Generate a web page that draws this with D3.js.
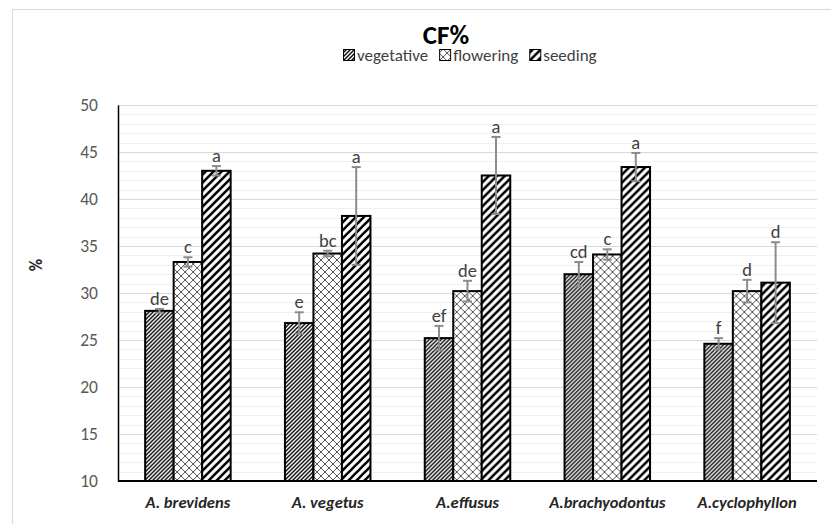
<!DOCTYPE html>
<html lang="en"><head>
<meta charset="utf-8">
<title>CF%</title>
<script src="https://cdn.jsdelivr.net/npm/d3@7"></script>
<style>
  body { margin: 0; background: #fff; }
  svg { display: block; font-family: Carlito, Lato, "Liberation Sans", sans-serif; }
</style>
</head>
<body>
<svg id="chart" width="831" height="524"></svg>
<script>
// data
let species = ["A. brevidens", "A. vegetus", "A.effusus", "A.brachyodontus", "A.cyclophyllon"];
let stages = ["vegetative", "flowering", "seeding"];
let vegetative = [28.1, 26.8, 25.2, 32.0, 24.6];
let flowering = [33.3, 34.2, 30.2, 34.1, 30.2];
let seeding = [43.0, 38.2, 42.5, 43.4, 31.1];
let vegetativeErr = [0.2, 1.15, 1.3, 1.3, 0.6];
let floweringErr = [0.5, 0.3, 1.1, 0.55, 1.2];
let seedingErr = [0.5, 5.2, 4.1, 1.5, 4.3];
let letters = [["de", "c", "a"], ["e", "bc", "a"], ["ef", "de", "a"], ["cd", "c", "a"], ["f", "d", "d"]];
let yTicks = [10, 15, 20, 25, 30, 35, 40, 45, 50];

let values = [vegetative, flowering, seeding];
let errs = [vegetativeErr, floweringErr, seedingErr];
let rows = [];
species.forEach((s, i) => {
  stages.forEach((st, j) => {
    rows.push({species: s, stage: st, value: values[j][i], err: errs[j][i], letter: letters[i][j]});
  });
});

let svg = d3.select("#chart");
let margin = {left: 118, right: 14, top: 105, bottom: 43};
let width = 831, height = 524;

// chart frame (only top/left edges visible in the crop)
svg.append("path")
  .attr("d", "M12.5,524 V9.5 H831")
  .attr("fill", "none")
  .attr("stroke", "#d9d9d9");

// patterns
let defs = svg.append("defs");
let p1 = defs.append("pattern").attr("id", "pat-vegetative")
  .attr("patternUnits", "userSpaceOnUse").attr("width", 4).attr("height", 4);
p1.append("rect").attr("width", 4).attr("height", 4).attr("fill", "#fff");
p1.append("path").attr("d", "M-1,1 l2,-2 M0,4 l4,-4 M3,5 l2,-2")
  .attr("stroke", "#111").attr("stroke-width", 1.5);

let p2 = defs.append("pattern").attr("id", "pat-flowering")
  .attr("patternUnits", "userSpaceOnUse").attr("width", 8).attr("height", 8);
p2.append("rect").attr("width", 8).attr("height", 8).attr("fill", "#fff");
p2.append("path").attr("d", "M0,0 L8,8 M8,0 L0,8 M-1,1 L1,-1 M7,9 L9,7 M-1,7 L1,9 M7,-1 L9,1")
  .attr("stroke", "#555").attr("stroke-width", 1);

let p3 = defs.append("pattern").attr("id", "pat-seeding")
  .attr("patternUnits", "userSpaceOnUse").attr("width", 8).attr("height", 8);
p3.append("rect").attr("width", 8).attr("height", 8).attr("fill", "#fff");
p3.append("path").attr("d", "M-2,2 l4,-4 M0,8 l8,-8 M6,10 l4,-4")
  .attr("stroke", "#000").attr("stroke-width", 2.6);

// scales
let x0 = d3.scaleBand().domain(species).range([margin.left, width - margin.right]);
let x1 = d3.scaleBand().domain(stages).range([0, 85.5]);
let y = d3.scaleLinear().domain([10, 50]).range([height - margin.bottom, margin.top]);

// gridlines, minor then major
let minor = d3.range(11, 50, 1).filter(d => d % 5 != 0);
svg.append("g").selectAll("line").data(minor).enter()
  .append("line")
  .attr("x1", margin.left).attr("x2", width - margin.right)
  .attr("y1", d => Math.round(y(d)) + 0.5).attr("y2", d => Math.round(y(d)) + 0.5)
  .attr("stroke", "#f0f0f0");
svg.append("g").selectAll("line").data(yTicks.filter(d => d > 10)).enter()
  .append("line")
  .attr("x1", margin.left).attr("x2", width - margin.right)
  .attr("y1", d => Math.round(y(d)) + 0.5).attr("y2", d => Math.round(y(d)) + 0.5)
  .attr("stroke", "#d9d9d9");

// y axis
let yAxis = svg.append("g")
  .attr("transform", `translate(${margin.left},0)`)
  .call(d3.axisLeft(y).tickValues(yTicks).tickSize(0).tickPadding(20));
yAxis.select(".domain").attr("stroke", "#000").attr("stroke-width", 1.5);
yAxis.selectAll("text").attr("font-size", 17.5).attr("fill", "#595959")
  .attr("font-family", "Carlito, Lato, sans-serif");

// bars
let groups = svg.append("g").selectAll("g").data(species).enter()
  .append("g")
  .attr("transform", d => `translate(${x0(d) + (x0.bandwidth() - 85.5) / 2},0)`);

groups.selectAll("rect")
  .data(d => rows.filter(r => r.species == d))
  .enter().append("rect")
  .attr("x", d => x1(d.stage))
  .attr("y", d => y(d.value))
  .attr("width", x1.bandwidth())
  .attr("height", d => y(10) - y(d.value))
  .attr("fill", d => `url(#pat-${d.stage})`)
  .attr("stroke", "#000")
  .attr("stroke-width", 2);

// error bars
let eb = groups.selectAll("g.err")
  .data(d => rows.filter(r => r.species == d))
  .enter().append("g").attr("class", "err")
  .attr("stroke", "#8c8c8c").attr("stroke-width", 2);
eb.append("line")
  .attr("x1", d => x1(d.stage) + x1.bandwidth() / 2)
  .attr("x2", d => x1(d.stage) + x1.bandwidth() / 2)
  .attr("y1", d => y(d.value + d.err)).attr("y2", d => y(d.value - d.err));
eb.append("line")
  .attr("x1", d => x1(d.stage) + x1.bandwidth() / 2 - 4.5)
  .attr("x2", d => x1(d.stage) + x1.bandwidth() / 2 + 4.5)
  .attr("y1", d => y(d.value + d.err)).attr("y2", d => y(d.value + d.err));
eb.append("line")
  .attr("x1", d => x1(d.stage) + x1.bandwidth() / 2 - 4.5)
  .attr("x2", d => x1(d.stage) + x1.bandwidth() / 2 + 4.5)
  .attr("y1", d => y(d.value - d.err)).attr("y2", d => y(d.value - d.err));

// significance letters
groups.selectAll("text.letter")
  .data(d => rows.filter(r => r.species == d))
  .enter().append("text").attr("class", "letter")
  .attr("x", d => x1(d.stage) + x1.bandwidth() / 2)
  .attr("y", d => y(d.value + d.err) - 4)
  .attr("text-anchor", "middle")
  .attr("font-size", 18.5)
  .attr("fill", "#404040")
  .text(d => d.letter);

// x axis line
svg.append("line")
  .attr("x1", margin.left).attr("x2", width - margin.right)
  .attr("y1", y(10)).attr("y2", y(10))
  .attr("stroke", "#000").attr("stroke-width", 2);

// x labels
svg.append("g").selectAll("text").data(species).enter()
  .append("text")
  .attr("x", d => x0(d) + x0.bandwidth() / 2)
  .attr("y", 508)
  .attr("text-anchor", "middle")
  .attr("font-size", 16.5)
  .attr("font-weight", "bold")
  .attr("font-style", "italic")
  .attr("fill", "#262626")
  .text(d => d);

// y title
svg.append("text")
  .attr("transform", "translate(42,265) rotate(-90)")
  .attr("text-anchor", "middle")
  .attr("font-size", 17)
  .attr("font-weight", "bold")
  .attr("fill", "#262626")
  .text("%");

// title
svg.append("text")
  .attr("x", 446).attr("y", 44)
  .attr("text-anchor", "middle")
  .attr("font-size", 27)
  .attr("font-weight", "bold")
  .attr("fill", "#000")
  .text("CF%");

// legend
let legend = svg.append("g").attr("transform", "translate(343,61)");
let lx = 0;
stages.forEach(st => {
  let item = legend.append("g").attr("transform", `translate(${lx},0)`);
  item.append("rect")
    .attr("x", 0.5).attr("y", -11.5).attr("width", 11).attr("height", 11)
    .attr("fill", `url(#pat-${st})`).attr("stroke", "#000").attr("stroke-width", 1);
  let t = item.append("text")
    .attr("x", 14).attr("y", 0)
    .attr("font-size", 17).attr("fill", "#404040")
    .text(st);
  lx += 14 + t.node().getComputedTextLength() + 11;
});
</script>
</body>
</html>
